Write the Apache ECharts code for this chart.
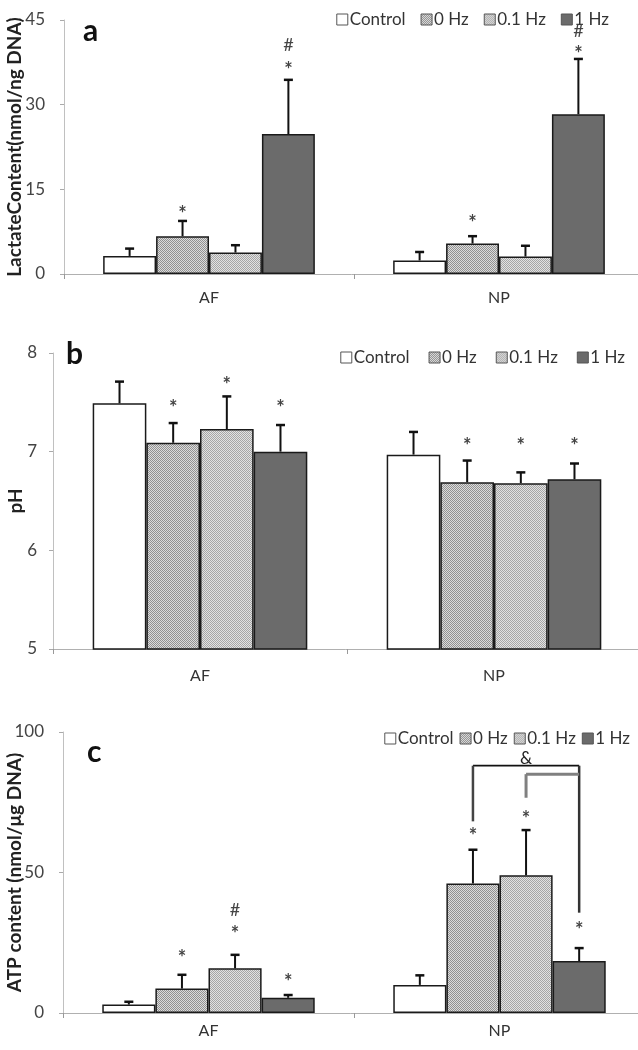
<!DOCTYPE html>
<html><head><meta charset="utf-8">
<script src="https://cdn.jsdelivr.net/npm/echarts@6/dist/echarts.min.js"></script>
<style>html,body{margin:0;padding:0;background:#fff}#c{width:638px;height:1050px}</style>
</head><body><div id="c"></div>
<script>
// ---------- data ----------
const categories = ['AF', 'NP'];
const seriesNames = ['Control', '0 Hz', '0.1 Hz', '1 Hz'];

// Panel a: lactate content (nmol/ng DNA), rows = series, cols = [AF, NP]
const lactateMean = [[3.2, 2.4], [6.7, 5.4], [3.8, 3.1], [24.8, 28.3]];
const lactateSD   = [[1.3, 1.5], [2.7, 1.3], [1.3, 1.9], [9.6, 9.8]];
const lactateTicks = [0, 15, 30, 45];

// Panel b: pH
const phMean = [[7.49, 6.97], [7.09, 6.69], [7.23, 6.68], [7.00, 6.72]];
const phSD   = [[0.22, 0.23], [0.20, 0.22], [0.33, 0.11], [0.27, 0.16]];
const phTicks = [5, 6, 7, 8];

// Panel c: ATP content (nmol/µg DNA)
const atpMean = [[3.0, 10.0], [8.7, 46.1], [15.9, 49.0], [5.4, 18.5]];
const atpSD   = [[1.0, 3.4], [4.9, 12.0], [4.8, 16.1], [1.0, 4.6]];
const atpTicks = [0, 50, 100];

// significance marks: [categoryIndex, seriesIndex, value level, text]
const lactateMarks = [[0,1,11.5,'*'],[0,3,37.0,'*'],[0,3,40.6,'#'],[1,1,9.9,'*'],[1,3,39.7,'*'],[1,3,43.0,'#']];
const phMarks = [[0,1,7.485,'*'],[0,2,7.72,'*'],[0,3,7.485,'*'],[1,1,7.10,'*'],[1,2,7.10,'*'],[1,3,7.10,'*']];
const atpMarks = [[0,1,21.1,'*'],[0,2,29.6,'*'],[0,2,36.7,'#'],[0,3,12.7,'*'],[1,1,64.5,'*'],[1,2,70.6,'*'],[1,3,31.2,'*']];
// brackets (panel c, NP): [fromSeries, toSeries, level, leftEnd, rightEnd]
const atpBrackets = [[1, 3, 88, 68.2, 35.7], [2, 3, 85, 76.6, 85]];
const atpBracketLabel = [1, 2, 90.5, '&'];

// ---------- styling ----------
const GAP = 0.27;
const FONT = 'Lato, "Open Sans", sans-serif';
function checker(light, dark) {
  const c = document.createElement('canvas');
  c.width = 2; c.height = 2;
  const x = c.getContext('2d');
  x.fillStyle = light; x.fillRect(0, 0, 2, 2);
  x.fillStyle = dark; x.fillRect(0, 0, 1, 1); x.fillRect(1, 1, 1, 1);
  return { image: c, repeat: 'repeat' };
}
const fills = [
  '#ffffff',
  checker('#dcdcdc', '#929292'),
  checker('#e2e2e2', '#a6a6a6'),
  '#6b6b6b'
];

const grids = [
  { left: 64, width: 580, top: 20, height: 254, outerBoundsMode: 'none', containLabel: false },
  { left: 53, width: 588, top: 353, height: 296, outerBoundsMode: 'none', containLabel: false },
  { left: 63, width: 582, top: 732, height: 281, outerBoundsMode: 'none', containLabel: false }
];
const panels = [
  { mean: lactateMean, sd: lactateSD, ticks: lactateTicks, marks: lactateMarks, name: 'LactateContent(nmol/ng DNA)', catMargin: 16, nameGap: 40, legendTop: 6, legendRight: 24, legendGap: 15 },
  { mean: phMean, sd: phSD, ticks: phTicks, marks: phMarks, name: 'pH', catMargin: 19, nameGap: 28, legendTop: 344, legendRight: 8, legendGap: 19 },
  { mean: atpMean, sd: atpSD, ticks: atpTicks, marks: atpMarks, name: 'ATP content (nmol/\u03bcg DNA)', catMargin: 10, nameGap: 39, legendTop: 725, legendRight: 3, legendGap: 6 }
];

function barX(api, cat, val, si) {
  const p = api.coord([cat, val]);
  const band = api.size([1, 0])[0];
  const bw = band * (1 - GAP) / 4;
  return [p[0] - band * (1 - GAP) / 2 + bw * (si + 0.5), p[1]];
}

const option = {
  animation: false,
  grid: grids,
  xAxis: grids.map((g, k) => ({
    type: 'category', gridIndex: k, data: categories,
    axisLine: { lineStyle: { color: '#b0b0b0', width: 1 } },
    axisTick: { show: true, length: 5, lineStyle: { color: '#999' } },
    axisLabel: { fontFamily: FONT, fontSize: 16, color: '#333', margin: panels[k].catMargin }
  })),
  yAxis: panels.map((p, k) => ({
    type: 'value', gridIndex: k,
    min: p.ticks[0], max: p.ticks[p.ticks.length - 1],
    interval: p.ticks[1] - p.ticks[0],
    splitLine: { show: false },
    axisLine: { show: true, lineStyle: { color: '#c0c0c0', width: 1 } },
    axisTick: { show: true, length: 4, lineStyle: { color: '#aaa' } },
    axisLabel: { fontFamily: FONT, fontSize: 17, color: '#444', margin: k === 1 ? 16 : 19 },
    name: p.name, nameLocation: 'middle', nameGap: p.nameGap, nameMoveOverlap: false,
    nameTextStyle: { fontFamily: FONT, fontSize: 19, fontWeight: 'bold', color: '#222' }
  })),
  legend: panels.map(p => ({
    data: seriesNames, top: p.legendTop, right: p.legendRight,
    itemWidth: 11, itemHeight: 11, itemGap: p.legendGap,
    icon: 'rect', selectedMode: false,
    itemStyle: { borderColor: '#555', borderWidth: 1 },
    textStyle: { fontFamily: FONT, fontSize: 17, color: '#333', padding: [0, 0, 0, -3] }
  })),
  graphic: [
    { type: 'text', left: 83, top: 16, style: { text: 'a', font: 'bold 30px ' + FONT, fill: '#111' } },
    { type: 'text', left: 66, top: 339, style: { text: 'b', font: 'bold 30px ' + FONT, fill: '#111' } },
    { type: 'text', left: 87, top: 737, style: { text: 'c', font: 'bold 30px ' + FONT, fill: '#111' } }
  ],
  series: []
};

panels.forEach((p, k) => {
  seriesNames.forEach((nm, si) => {
    option.series.push({
      type: 'bar', name: nm, xAxisIndex: k, yAxisIndex: k,
      data: p.mean[si], barGap: '0%', barCategoryGap: (GAP * 100) + '%',
      itemStyle: { color: fills[si], borderColor: '#1a1a1a', borderWidth: 1.5 },
      z: 2
    });
  });
  // error bars
  const errData = [];
  p.mean.forEach((row, si) => row.forEach((m, ci) => errData.push([ci, m, p.sd[si][ci], si])));
  option.series.push({
    type: 'custom', xAxisIndex: k, yAxisIndex: k, z: 3, silent: true,
    data: errData, encode: { x: 0, y: 1 },
    renderItem: (params, api) => {
      const ci = api.value(0), m = api.value(1), sd = api.value(2), si = api.value(3);
      const b = barX(api, ci, m, si), t = barX(api, ci, m + sd, si);
      return { type: 'group', children: [
        { type: 'line', shape: { x1: b[0], y1: b[1], x2: t[0], y2: t[1] }, style: { stroke: '#111', lineWidth: 2 } },
        { type: 'line', shape: { x1: t[0] - 4.5, y1: t[1], x2: t[0] + 4.5, y2: t[1] }, style: { stroke: '#111', lineWidth: 2.5 } }
      ] };
    }
  });
  // significance marks
  option.series.push({
    type: 'custom', xAxisIndex: k, yAxisIndex: k, z: 4, silent: true,
    data: p.marks.map(mk => [mk[0], mk[2], mk[1]]), encode: { x: 0, y: 1 },
    renderItem: (params, api) => {
      const txt = p.marks[params.dataIndex][3];
      const c = barX(api, api.value(0), api.value(1), api.value(2));
      return { type: 'text', x: c[0], y: c[1] + (txt === '*' ? 5 : 0),
        style: { text: txt, font: (txt === '*' ? 'bold 20px ' : '18px ') + FONT, fill: '#444', align: 'center', verticalAlign: 'middle' } };
    }
  });
});

// brackets in panel c
option.series.push({
  type: 'custom', xAxisIndex: 2, yAxisIndex: 2, z: 4, silent: true,
  data: atpBrackets.map(b => [1, b[2], b[0], b[1], b[3], b[4]]), encode: { x: 0, y: 1 },
  renderItem: (params, api) => {
    const ci = api.value(0), lvl = api.value(1), s0 = api.value(2), s1 = api.value(3), l = api.value(4), r = api.value(5);
    const a0 = barX(api, ci, lvl, s0), a1 = barX(api, ci, l, s0);
    const b0 = barX(api, ci, lvl, s1), b1 = barX(api, ci, r, s1);
    const outer = params.dataIndex === 0;
    const st = outer ? { stroke: '#111', lineWidth: 1.8 } : { stroke: '#808080', lineWidth: 3 };
    const kids = [
      { type: 'line', shape: { x1: a0[0], y1: a0[1], x2: b0[0], y2: b0[1] }, style: st },
      { type: 'line', shape: { x1: a0[0], y1: a0[1], x2: a1[0], y2: a1[1] }, style: outer ? { stroke: '#444', lineWidth: 2.5 } : st }
    ];
    if (outer) kids.push({ type: 'line', shape: { x1: b0[0], y1: b0[1], x2: b1[0], y2: b1[1] }, style: { stroke: '#333', lineWidth: 2.5 } });
    return { type: 'group', children: kids };
  }
});
option.series.push({
  type: 'custom', xAxisIndex: 2, yAxisIndex: 2, z: 4, silent: true,
  data: [[atpBracketLabel[0], atpBracketLabel[2], atpBracketLabel[1]]], encode: { x: 0, y: 1 },
  renderItem: (params, api) => {
    const c = barX(api, api.value(0), api.value(1), api.value(2));
    return { type: 'text', x: c[0], y: c[1], style: { text: atpBracketLabel[3], font: '17px ' + FONT, fill: '#222', align: 'center', verticalAlign: 'middle' } };
  }
});

const chart = echarts.init(document.getElementById('c'), null, { renderer: 'canvas' });
chart.setOption(option);
</script></body></html>
